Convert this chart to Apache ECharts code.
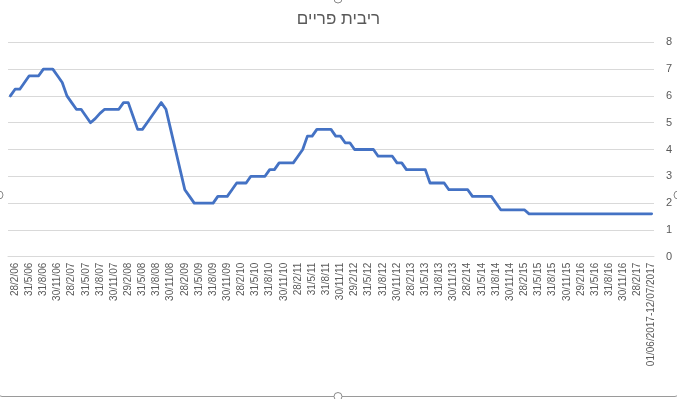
<!DOCTYPE html>
<html>
<head>
<meta charset="utf-8">
<script src="https://cdn.jsdelivr.net/npm/echarts@6/dist/echarts.min.js"></script>
<style>
html,body{margin:0;padding:0;background:#fff;}
#chart{width:677px;height:399px;}
</style>
</head>
<body>
<div id="chart"></div>
<script>
const titleText = "ריבית פריים";

const categories = [
  "31/1/06","28/2/06","31/3/06","30/4/06","31/5/06","30/6/06","31/7/06","31/8/06","30/9/06","31/10/06","30/11/06","31/12/06",
  "31/1/07","28/2/07","31/3/07","30/4/07","31/5/07","30/6/07","31/7/07","31/8/07","30/9/07","31/10/07","30/11/07","31/12/07",
  "31/1/08","29/2/08","31/3/08","30/4/08","31/5/08","30/6/08","31/7/08","31/8/08","30/9/08","31/10/08","30/11/08","31/12/08",
  "31/1/09","28/2/09","31/3/09","30/4/09","31/5/09","30/6/09","31/7/09","31/8/09","30/9/09","31/10/09","30/11/09","31/12/09",
  "31/1/10","28/2/10","31/3/10","30/4/10","31/5/10","30/6/10","31/7/10","31/8/10","30/9/10","31/10/10","30/11/10","31/12/10",
  "31/1/11","28/2/11","31/3/11","30/4/11","31/5/11","30/6/11","31/7/11","31/8/11","30/9/11","31/10/11","30/11/11","31/12/11",
  "31/1/12","29/2/12","31/3/12","30/4/12","31/5/12","30/6/12","31/7/12","31/8/12","30/9/12","31/10/12","30/11/12","31/12/12",
  "31/1/13","28/2/13","31/3/13","30/4/13","31/5/13","30/6/13","31/7/13","31/8/13","30/9/13","31/10/13","30/11/13","31/12/13",
  "31/1/14","28/2/14","31/3/14","30/4/14","31/5/14","30/6/14","31/7/14","31/8/14","30/9/14","31/10/14","30/11/14","31/12/14",
  "31/1/15","28/2/15","31/3/15","30/4/15","31/5/15","30/6/15","31/7/15","31/8/15","30/9/15","31/10/15","30/11/15","31/12/15",
  "31/1/16","29/2/16","31/3/16","30/4/16","31/5/16","30/6/16","31/7/16","31/8/16","30/9/16","31/10/16","30/11/16","31/12/16",
  "31/1/17","28/2/17","31/3/17","30/4/17","01/06/2017-12/07/2017"
];

const primeRate = [
  6.0, 6.25, 6.25, 6.5, 6.75, 6.75, 6.75, 7.0, 7.0, 7.0, 6.75, 6.5,
  6.0, 5.75, 5.5, 5.5, 5.25, 5.0, 5.15, 5.35, 5.5, 5.5, 5.5, 5.5,
  5.75, 5.75, 5.25, 4.75, 4.75, 5.0, 5.25, 5.5, 5.75, 5.5, 4.75, 4.0,
  3.25, 2.5, 2.25, 2.0, 2.0, 2.0, 2.0, 2.0, 2.25, 2.25, 2.25, 2.5,
  2.75, 2.75, 2.75, 3.0, 3.0, 3.0, 3.0, 3.25, 3.25, 3.5, 3.5, 3.5,
  3.5, 3.75, 4.0, 4.5, 4.5, 4.75, 4.75, 4.75, 4.75, 4.5, 4.5, 4.25,
  4.25, 4.0, 4.0, 4.0, 4.0, 4.0, 3.75, 3.75, 3.75, 3.75, 3.5, 3.5,
  3.25, 3.25, 3.25, 3.25, 3.25, 2.75, 2.75, 2.75, 2.75, 2.5, 2.5, 2.5,
  2.5, 2.5, 2.25, 2.25, 2.25, 2.25, 2.25, 2.0, 1.75, 1.75, 1.75, 1.75,
  1.75, 1.75, 1.6, 1.6, 1.6, 1.6, 1.6, 1.6, 1.6, 1.6, 1.6, 1.6,
  1.6, 1.6, 1.6, 1.6, 1.6, 1.6, 1.6, 1.6, 1.6, 1.6, 1.6, 1.6,
  1.6, 1.6, 1.6, 1.6, 1.6
];

const yTicks = [0, 1, 2, 3, 4, 5, 6, 7, 8];

const chart = echarts.init(document.getElementById('chart'), null, {renderer: 'canvas'});
const font = '"Liberation Sans", "DejaVu Sans", Arial, sans-serif';

chart.setOption({
  animation: false,
  backgroundColor: '#ffffff',
  title: {
    text: titleText,
    left: 'center',
    top: 6,
    textStyle: {fontFamily: font, fontSize: 17, fontWeight: 'normal', color: '#595959'}
  },
  grid: {left: 8, right: 23, top: 42.3, bottom: 142.3, containLabel: false},
  xAxis: {
    type: 'category',
    data: categories,
    boundaryGap: true,
    axisLine: {show: true, lineStyle: {color: '#d9d9d9', width: 1}},
    axisTick: {show: false},
    axisLabel: {
      rotate: 90,
      margin: 6,
      fontFamily: font,
      fontSize: 10,
      color: '#595959',
      interval: function (index) { return index % 3 === 1; }
    },
    splitLine: {show: false}
  },
  yAxis: {
    type: 'value',
    position: 'right',
    min: yTicks[0],
    max: yTicks[yTicks.length - 1],
    interval: 1,
    axisLine: {show: false},
    axisTick: {show: false},
    axisLabel: {margin: 12, fontFamily: font, fontSize: 11, color: '#595959'},
    splitLine: {lineStyle: {color: '#d9d9d9', width: 1}}
  },
  series: [{
    type: 'line',
    data: primeRate,
    showSymbol: false,
    symbol: 'none',
    lineStyle: {color: '#4472C4', width: 2.8, join: 'round', cap: 'round'},
    itemStyle: {color: '#4472C4'}
  }],
  graphic: [
    {type: 'rect', shape: {x: -2, y: -6, width: 681, height: 402.5, r: 4},
     style: {fill: null, stroke: '#9a9a9a', lineWidth: 1}, silent: true},
    {type: 'circle', shape: {cx: 338, cy: 396.5, r: 4}, style: {fill: '#fff', stroke: '#8a8a8a', lineWidth: 1}},
    {type: 'circle', shape: {cx: -1, cy: 195, r: 4}, style: {fill: '#fff', stroke: '#8a8a8a', lineWidth: 1}},
    {type: 'circle', shape: {cx: 678, cy: 195, r: 4}, style: {fill: '#fff', stroke: '#8a8a8a', lineWidth: 1}},
    {type: 'circle', shape: {cx: 338, cy: -1, r: 4}, style: {fill: '#fff', stroke: '#8a8a8a', lineWidth: 1}}
  ]
});
</script>
</body>
</html>
